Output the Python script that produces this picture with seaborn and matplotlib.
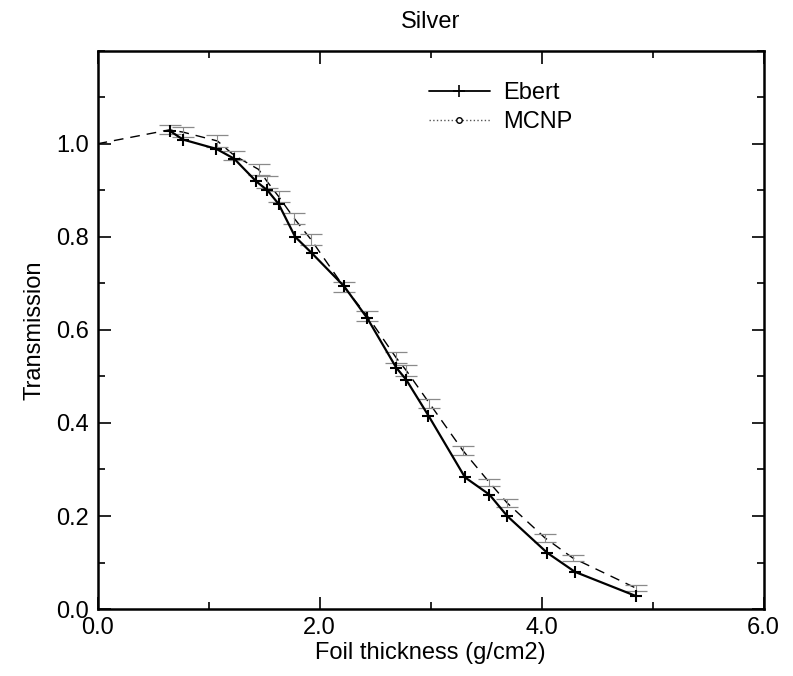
import matplotlib
matplotlib.use("Agg")
import matplotlib.pyplot as plt
from matplotlib.ticker import MultipleLocator, FormatStrFormatter
from matplotlib.lines import Line2D
import seaborn as sns
import pandas as pd

# Data
ebert_x = [0.65, 0.77, 1.07, 1.23, 1.43, 1.53, 1.63, 1.78, 1.93, 2.22, 2.43, 2.69, 2.78, 2.98, 3.31, 3.53, 3.69, 4.05, 4.30, 4.85]
ebert_y = [1.028, 1.009, 0.989, 0.968, 0.919, 0.900, 0.871, 0.800, 0.765, 0.694, 0.625, 0.519, 0.493, 0.416, 0.283, 0.246, 0.200, 0.121, 0.080, 0.028]

mcnp_x = [0.0, 0.65, 0.77, 1.08, 1.23, 1.45, 1.53, 1.63, 1.77, 1.92, 2.22, 2.43, 2.69, 2.78, 2.99, 3.29, 3.53, 3.69, 4.03, 4.28, 4.85]
mcnp_y = [1.000, 1.030, 1.025, 1.006, 0.975, 0.945, 0.918, 0.887, 0.840, 0.795, 0.692, 0.630, 0.540, 0.513, 0.442, 0.341, 0.272, 0.228, 0.153, 0.110, 0.045]
mcnp_err = [0.0, 0.010, 0.010, 0.012, 0.010, 0.012, 0.012, 0.012, 0.012, 0.012, 0.010, 0.010, 0.012, 0.012, 0.010, 0.010, 0.008, 0.008, 0.008, 0.006, 0.006]

title = "Silver"
xlabel = "Foil thickness (g/cm2)"
ylabel = "Transmission"

sns.set_style("ticks")
plt.rcParams['font.family'] = ['Liberation Sans', 'DejaVu Sans']
plt.rcParams['text.color'] = 'black'
plt.rcParams['axes.labelcolor'] = 'black'
plt.rcParams['xtick.color'] = 'black'
plt.rcParams['ytick.color'] = 'black'
plt.rcParams['axes.edgecolor'] = 'black'

FS = 17

fig = plt.figure(figsize=(7.93, 6.76), dpi=100)
ax = fig.add_axes([0.123, 0.0990, 0.840, 0.826])

df_e = pd.DataFrame({"x": ebert_x, "y": ebert_y})
df_m = pd.DataFrame({"x": mcnp_x, "y": mcnp_y, "err": mcnp_err})

sns.lineplot(data=df_m, x="x", y="y", ax=ax, color="black", linewidth=1.0,
             linestyle=(0, (7, 5)), sort=False, legend=False)
ax.errorbar(df_m["x"][1:], df_m["y"][1:], yerr=df_m["err"][1:], fmt="none",
            ecolor="#8a8a8a", elinewidth=0.8, capsize=8, capthick=0.9)
sns.lineplot(data=df_e, x="x", y="y", ax=ax, color="black", linewidth=1.6,
             marker="+", markersize=8, markeredgewidth=1.5,
             markeredgecolor="black", sort=False, legend=False)

# legend
h1 = Line2D([], [], color="black", linewidth=1.3, marker="+", markersize=8,
            markevery=[0, -1], markeredgewidth=1.2, markeredgecolor="black")
h2 = Line2D([], [], color="#555555", linewidth=1.0, linestyle=":", marker="o",
            markersize=4, markerfacecolor="white", markeredgecolor="black",
            markevery=[0, -1])
leg = ax.legend([h1, h2], ["Ebert", "MCNP"], loc="upper left",
                bbox_to_anchor=(0.465, 0.982), frameon=False, fontsize=FS,
                handlelength=2.6, handletextpad=0.55, labelspacing=0.3)

ax.set_xlim(0, 6)
ax.set_ylim(0, 1.2)
ax.xaxis.set_major_locator(MultipleLocator(2.0))
ax.xaxis.set_minor_locator(MultipleLocator(1.0))
ax.yaxis.set_minor_locator(MultipleLocator(0.1))
ax.set_yticks([0, 0.2, 0.4, 0.6, 0.8, 1.0])
ax.xaxis.set_major_formatter(FormatStrFormatter("%.1f"))
ax.yaxis.set_major_formatter(FormatStrFormatter("%.1f"))
ax.tick_params(which="both", direction="in", top=True, right=True, labelsize=FS, width=1.2)
ax.tick_params(which="major", length=9, pad=6)
ax.tick_params(which="minor", length=5)
for s in ax.spines.values():
    s.set_linewidth(1.8)
    s.set_visible(True)

ax.set_title(title, fontsize=FS, pad=16)
ax.set_xlabel(xlabel, fontsize=FS, labelpad=2)
ax.set_ylabel(ylabel, fontsize=FS, labelpad=8)

fig.savefig("out.png", dpi=100)
